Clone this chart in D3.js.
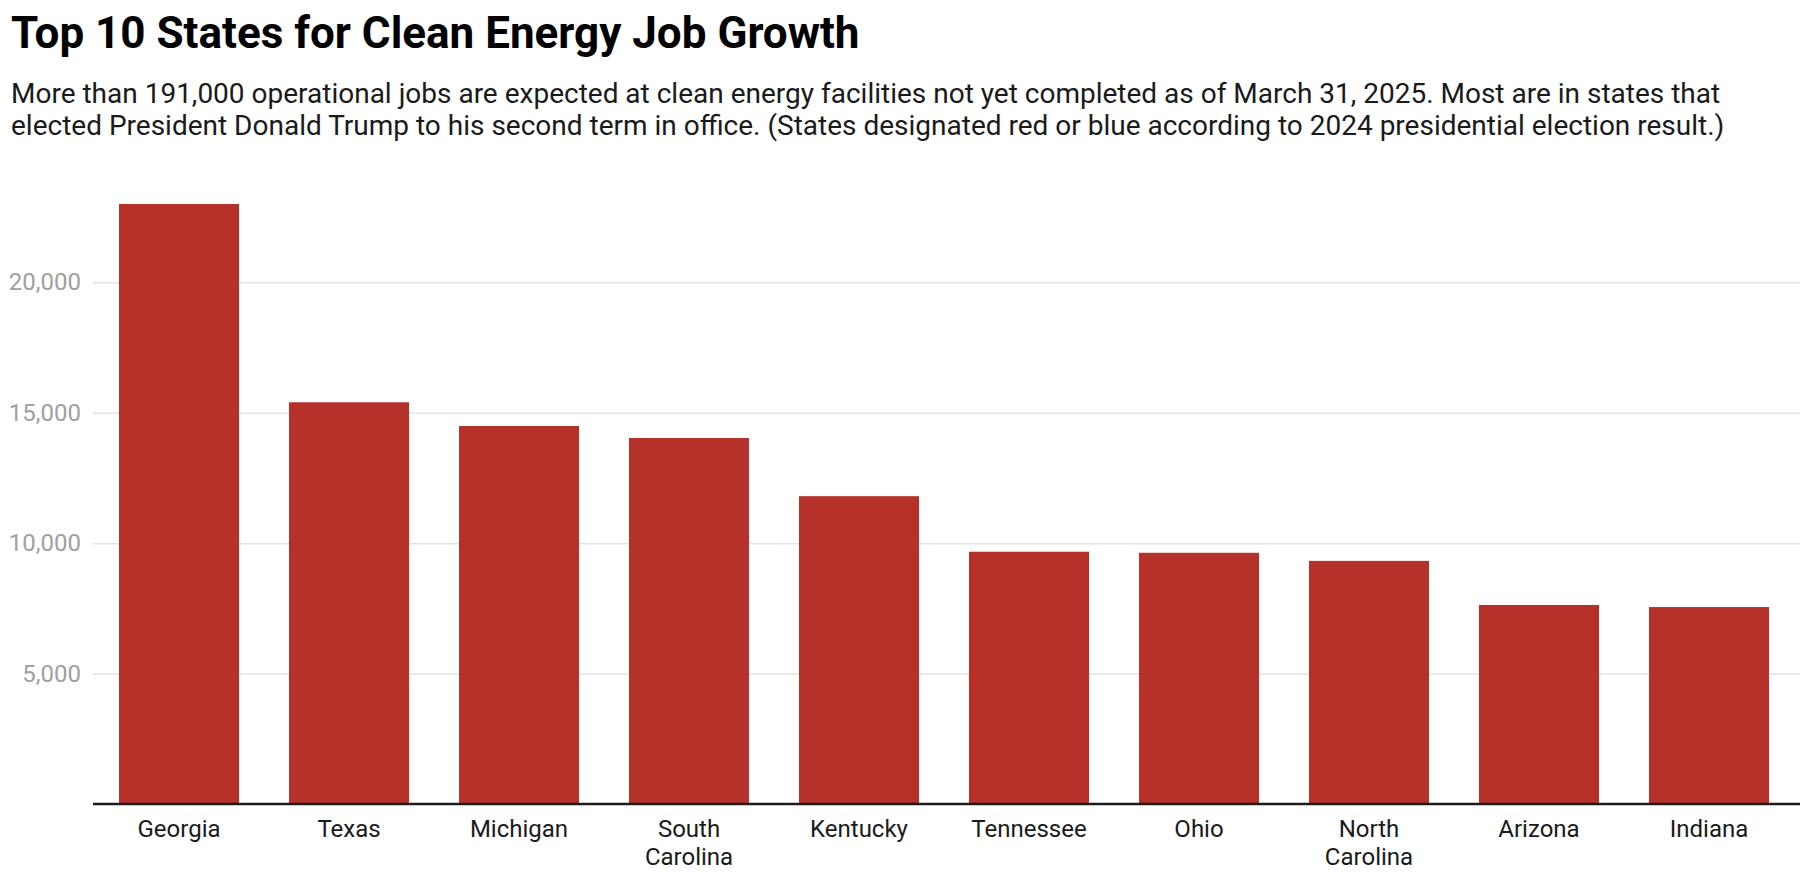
<!DOCTYPE html>
<html lang="en">

<head>
    <meta charset="UTF-8">
    <title>Top 10 States for Clean Energy Job Growth</title>
    <script src="https://cdnjs.cloudflare.com/ajax/libs/d3/7.9.0/d3.min.js"></script>
    <style>
        body { margin: 0; background: #fff; }
        svg { display: block; font-family: Roboto, "Noto Sans", sans-serif; }
    </style>
</head>

<body>
    <svg width="1800" height="893"></svg>

    <script>
        // Data
        let states = ["Georgia", "Texas", "Michigan", "South Carolina", "Kentucky",
            "Tennessee", "Ohio", "North Carolina", "Arizona", "Indiana"];
        let jobs = [23000, 15400, 14490, 14030, 11800, 9670, 9630, 9320, 7630, 7550];
        let yTicks = [5000, 10000, 15000, 20000];

        let titleText = "Top 10 States for Clean Energy Job Growth";
        let subtitleLines = [
            "More than 191,000 operational jobs are expected at clean energy facilities not yet completed as of March 31, 2025. Most are in states that",
            "elected President Donald Trump to his second term in office. (States designated red or blue according to 2024 presidential election result.)"
        ];

        let svg = d3.select("svg");
        let width = +svg.attr("width");

        let margin = { left: 93, right: 0, top: 204, bottom: 804 };

        // Title and subtitle
        svg.append("text")
            .attr("x", 11)
            .attr("y", 48)
            .attr("font-size", "44px")
            .attr("font-weight", "bold")
            .attr("fill", "#000")
            .text(titleText);

        subtitleLines.forEach((line, i) => {
            svg.append("text")
                .attr("x", 11)
                .attr("y", 103 + i * 32)
                .attr("font-size", "28px")
                .attr("fill", "#1a1a1a")
                .text(line);
        });

        // Scales
        let x = d3.scaleBand()
            .domain(states)
            .range([margin.left, 1795])
            .paddingInner(0.294)
            .paddingOuter(0.153);

        let y = d3.scaleLinear()
            .domain([0, 23000])
            .range([margin.bottom, margin.top]);

        // Gridlines and y labels
        let yAxis = svg.append("g")
            .attr("transform", `translate(${margin.left},0)`)
            .call(d3.axisLeft(y)
                .tickValues(yTicks)
                .tickFormat(d3.format(","))
                .tickSize(-(width - margin.left))
                .tickPadding(12));
        yAxis.select(".domain").remove();
        yAxis.selectAll(".tick line")
            .attr("stroke", "#e3e3e3")
            .attr("stroke-width", 1.5);
        yAxis.selectAll(".tick text")
            .attr("fill", "#a0a0a0")
            .attr("font-size", "24px")
            .attr("font-family", "Roboto");

        // Bars
        svg.append("g")
            .selectAll("rect")
            .data(states)
            .join("rect")
            .attr("x", d => x(d))
            .attr("width", x.bandwidth())
            .attr("y", (d, i) => y(jobs[i]))
            .attr("height", (d, i) => y(0) - y(jobs[i]))
            .attr("fill", "#b6312a");

        // x axis
        let xAxis = svg.append("g")
            .attr("transform", `translate(0,${margin.bottom})`)
            .call(d3.axisBottom(x).tickSize(0).tickPadding(0));
        xAxis.select(".domain")
            .attr("d", `M${margin.left},0H${width}`)
            .attr("stroke", "#1c1c1c")
            .attr("stroke-width", 2.5);

        xAxis.selectAll(".tick text")
            .attr("fill", "#1a1a1a")
            .attr("font-size", "24px")
            .attr("font-family", "Roboto")
            .each(function (d) {
                let t = d3.select(this);
                t.text(null).attr("y", 0).attr("dy", null);
                let lines = d.split(" ");
                lines.forEach((w, i) => {
                    t.append("tspan")
                        .attr("x", 0)
                        .attr("y", 33 + i * 28)
                        .text(w);
                });
            });
    </script>
</body>

</html>
